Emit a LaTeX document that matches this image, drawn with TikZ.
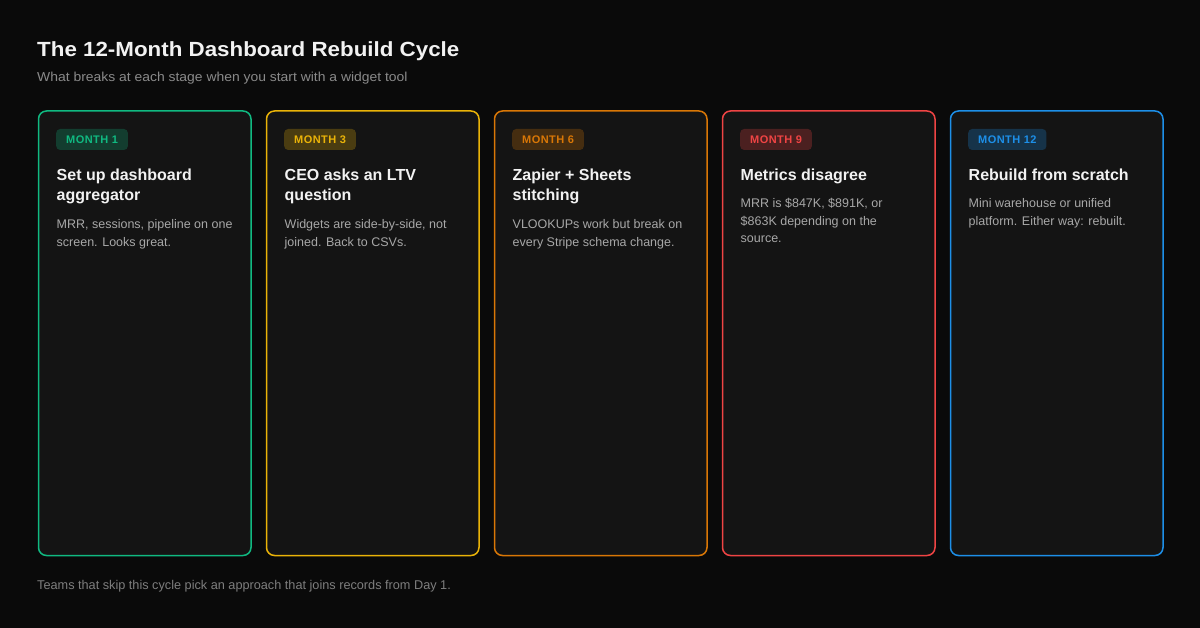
\documentclass[tikz,border=0pt]{standalone}
\usepackage{fontspec}
\setmainfont{Liberation Sans}
\newfontfamily\badgefont[LetterSpace=4]{Liberation Sans}
\newfontfamily\widefont[FakeStretch=1.09]{Liberation Sans}
\newfontfamily\subfont[FakeStretch=1.07]{Liberation Sans}
\definecolor{bgc}{HTML}{0A0A0A}
\definecolor{cardc}{HTML}{141414}
\definecolor{titlec}{HTML}{F2F2F2}
\definecolor{subc}{HTML}{8A8A8A}
\definecolor{bodyc}{HTML}{A8A8A8}
\definecolor{footc}{HTML}{7E7E7E}
\definecolor{cA}{HTML}{10B981}
\definecolor{cB}{HTML}{EAB308}
\definecolor{cC}{HTML}{D97706}
\definecolor{cD}{HTML}{EF4444}
\definecolor{cE}{HTML}{1D8FE8}
\tikzset{
  card/.style={draw=#1, fill=cardc, line width=1.5pt, rounded corners=8pt,
    minimum width=212.5pt, minimum height=444.5pt, anchor=north west, inner sep=0pt},
  badge/.style={fill=#1!25!cardc, text=#1, rounded corners=4pt, anchor=west,
    minimum height=21pt, inner xsep=10pt, inner ysep=0pt,
    font=\badgefont\bfseries\fontsize{11}{13}\selectfont},
  ctitle/.style={anchor=base west, inner sep=0pt, text=titlec,
    font=\bfseries\fontsize{16}{20}\selectfont},
  cbody/.style={anchor=base west, inner sep=0pt, text=bodyc,
    font=\fontsize{12.5}{15}\selectfont},
}
\begin{document}
\begin{tikzpicture}[x=1pt,y=-1pt]
\fill[bgc] (0,0) rectangle (1200,628);
\useasboundingbox (0,0) rectangle (1200,628);
\node[anchor=base west, inner sep=0pt, text=titlec, font=\widefont\bfseries\fontsize{20.5}{24}\selectfont] (title) at (37,57) {The 12-Month Dashboard Rebuild Cycle};
\node[anchor=base west, inner sep=0pt, text=subc, font=\subfont\fontsize{13}{16}\selectfont] (subtitle) at (37,82) {What breaks at each stage when you start with a widget tool};
% cards
\node[card=cA] (card1) at (37.75,110.25) {};
\node[card=cB] (card2) at (265.75,110.25) {};
\node[card=cC] (card3) at (493.75,110.25) {};
\node[card=cD] (card4) at (721.75,110.25) {};
\node[card=cE] (card5) at (949.75,110.25) {};
% badges
\node[badge=cA] (b1) at (56,139.5) {MONTH 1};
\node[badge=cB] (b2) at (284,139.5) {MONTH 3};
\node[badge=cC] (b3) at (512,139.5) {MONTH 6};
\node[badge=cD] (b4) at (740,139.5) {MONTH 9};
\node[badge=cE] (b5) at (968,139.5) {MONTH 12};
% titles
\node[ctitle] (t1a) at (56.5,181) {Set up dashboard};
\node[ctitle] (t1b) at (56.5,201) {aggregator};
\node[ctitle] (t2a) at (284.5,181) {CEO asks an LTV};
\node[ctitle] (t2b) at (284.5,201) {question};
\node[ctitle] (t3a) at (512.5,181) {Zapier + Sheets};
\node[ctitle] (t3b) at (512.5,201) {stitching};
\node[ctitle] (t4a) at (740.5,181) {Metrics disagree};
\node[ctitle] (t5a) at (968.5,181) {Rebuild from scratch};
% bodies
\node[cbody] (d1a) at (56.5,229) {MRR, sessions, pipeline on one};
\node[cbody] (d1b) at (56.5,246.5) {screen. Looks great.};
\node[cbody] (d2a) at (284.5,229) {Widgets are side-by-side, not};
\node[cbody] (d2b) at (284.5,246.5) {joined. Back to CSVs.};
\node[cbody] (d3a) at (512.5,229) {VLOOKUPs work but break on};
\node[cbody] (d3b) at (512.5,246.5) {every Stripe schema change.};
\node[cbody] (d4a) at (740.5,208) {MRR is \$847K, \$891K, or};
\node[cbody] (d4b) at (740.5,225.5) {\$863K depending on the};
\node[cbody] (d4c) at (740.5,243) {source.};
\node[cbody] (d5a) at (968.5,208) {Mini warehouse or unified};
\node[cbody] (d5b) at (968.5,225.5) {platform. Either way: rebuilt.};
% footer
\node[anchor=base west, inner sep=0pt, text=footc, font=\fontsize{12.7}{15}\selectfont] (footer) at (37,589) {Teams that skip this cycle pick an approach that joins records from Day 1.};
\end{tikzpicture}
\end{document}
